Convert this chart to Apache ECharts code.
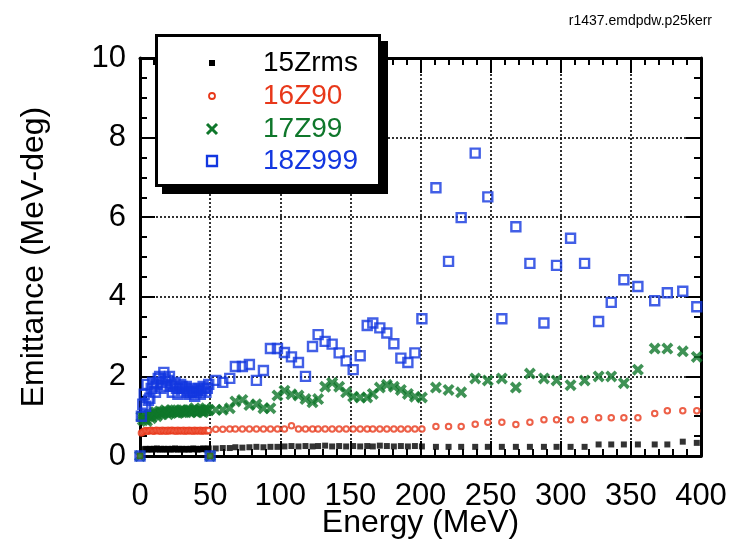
<!DOCTYPE html>
<html>
<head>
<meta charset="utf-8">
<title>emittance vs energy</title>
<script src="https://cdn.jsdelivr.net/npm/echarts@6/dist/echarts.min.js"></script>
<style>
  html, body { margin: 0; padding: 0; background: #fff; }
  #chart { width: 732px; height: 544px; }
</style>
</head>
<body>
<div id="chart"></div>
<script>
// energies (MeV), three runs; the 0 and 50 points are the zero entries
var energyLow = [0, 1, 2, 3, 4, 5, 6, 7, 8, 9, 10, 11, 12, 13, 14, 15, 16, 17, 18, 19, 20, 21, 22, 23, 24, 25, 26, 27, 28, 29, 30, 31, 32, 33, 34, 35, 36, 37, 38, 39, 40, 41, 42, 43, 44, 45, 46, 47, 48, 49]
var energyMid = [50, 54, 59, 64, 68, 73, 78, 83, 88, 93, 98, 103, 108, 113, 118, 123, 127, 132, 137, 142, 147, 152, 157, 162, 166, 171, 176, 181, 186, 191, 196, 201]
var energyHigh = [211, 220, 229, 239, 248, 258, 268, 278, 288, 297, 307, 317, 327, 336, 345, 355, 367, 376, 387, 397]

// 15Zrms
var rmsLow = [0, '-', '-', 0.17, 0.18, 0.16, 0.17, 0.18, 0.17, 0.16, 0.18, 0.17, 0.19, 0.17, 0.16, 0.18, 0.17, 0.18, 0.16, 0.17, 0.18, 0.17, 0.16, 0.18, 0.17, 0.19, 0.17, 0.16, 0.18, 0.17, 0.18, 0.16, 0.17, 0.18, 0.17, 0.16, 0.18, 0.17, 0.19, 0.17, 0.18, 0.16, 0.17, 0.18, 0.17, 0.19, 0.18, 0.17, 0.18, 0.19]
var rmsMid = [0, 0.19, 0.2, 0.2, 0.22, 0.21, 0.22, 0.23, 0.22, 0.23, 0.23, 0.24, 0.25, 0.24, 0.25, 0.24, 0.25, 0.26, 0.24, 0.25, 0.24, 0.25, 0.24, 0.25, 0.24, 0.26, 0.25, 0.24, 0.25, 0.24, 0.25, 0.24]
var rmsHigh = [0.23, 0.23, 0.23, 0.23, 0.23, 0.23, 0.23, 0.23, 0.23, 0.23, 0.23, 0.23, 0.29, 0.29, 0.29, 0.29, 0.29, 0.29, 0.36, 0.33]

// 16Z90
var z90Low = [0, 0.58, 0.6, 0.62, 0.64, 0.63, 0.62, 0.64, 0.65, 0.63, 0.62, 0.64, 0.65, 0.63, 0.64, 0.62, 0.65, 0.63, 0.64, 0.62, 0.65, 0.63, 0.64, 0.65, 0.63, 0.64, 0.62, 0.65, 0.63, 0.64, 0.63, 0.65, 0.62, 0.64, 0.63, 0.65, 0.63, 0.64, 0.62, 0.65, 0.63, 0.64, 0.63, 0.65, 0.62, 0.64, 0.63, 0.65, 0.63, 0.64]
var z90Mid = [0, 0.67, 0.67, 0.68, 0.68, 0.68, 0.68, 0.68, 0.68, 0.68, 0.68, 0.68, 0.76, 0.68, 0.68, 0.68, 0.68, 0.68, 0.68, 0.68, 0.68, 0.68, 0.68, 0.68, 0.68, 0.68, 0.68, 0.68, 0.68, 0.68, 0.68, 0.68]
var z90High = [0.74, 0.74, 0.74, 0.8, 0.85, 0.85, 0.79, 0.85, 0.91, 0.91, 0.91, 0.91, 0.96, 0.96, 0.96, 0.96, 1.07, 1.14, 1.14, 1.14]

// 17Z99
var z99Low = [0, 0.99, 0.9, 1.0, 0.92, 0.88, 1.0, 1.05, 0.95, 1.0, 1.08, 1.1, 1.0, 1.05, 1.12, 1.1, 1.05, 1.1, 1.15, 1.1, 1.05, 1.1, 1.15, 1.1, 1.12, 1.15, 1.1, 1.08, 1.12, 1.15, 1.1, 1.15, 1.12, 1.1, 1.15, 1.15, 1.1, 1.12, 1.15, 1.2, 1.12, 1.1, 1.15, 1.15, 1.12, 1.1, 1.15, 1.2, 1.15, 1.15]
var z99Mid = [0, 1.16, 1.16, 1.2, 1.37, 1.41, 1.28, 1.3, 1.2, 1.2, 1.52, 1.64, 1.55, 1.52, 1.43, 1.35, 1.43, 1.74, 1.84, 1.74, 1.6, 1.49, 1.47, 1.47, 1.56, 1.72, 1.79, 1.74, 1.66, 1.56, 1.49, 1.47]
var z99High = [1.72, 1.66, 1.6, 1.95, 1.9, 1.95, 1.72, 2.07, 1.95, 1.9, 1.78, 1.9, 2.0, 2.0, 1.83, 2.17, 2.7, 2.7, 2.63, 2.49]

// 18Z999
var z999Low = [0, 1.0, 1.3, 1.55, 1.25, 1.8, 1.4, 1.45, 1.7, 1.85, 1.75, 1.6, 1.8, 1.95, 2.0, 1.7, 1.85, 2.1, 1.95, 1.75, 1.9, 2.0, 1.8, 1.6, 1.75, 1.85, 1.7, 1.55, 1.7, 1.8, 1.75, 1.6, 1.7, 1.75, 1.65, 1.55, 1.6, 1.7, 1.6, 1.5, 1.6, 1.65, 1.7, 1.55, 1.65, 1.75, 1.7, 1.6, 1.7, 1.8]
var z999Mid = [0, 1.9, 1.85, 1.95, 2.25, 2.25, 2.3, 1.9, 2.15, 2.7, 2.7, 2.6, 2.49, 2.35, 2.0, 2.75, 3.05, 2.88, 2.81, 2.59, 2.39, 2.17, 2.52, 3.28, 3.34, 3.22, 3.09, 2.82, 2.46, 2.35, 2.59, 3.45]
var z999High = [6.74, 4.89, 5.99, 7.61, 6.51, 3.45, 5.76, 4.84, 3.34, 4.79, 5.47, 4.84, 3.38, 3.86, 4.43, 4.26, 3.9, 4.1, 4.14, 3.75]

var seriesNames = ['15Zrms', '16Z90', '17Z99', '18Z999']
var seriesColors = ['#000000', '#e8381a', '#0f772b', '#1337e0']

var energy = energyLow.concat(energyMid, energyHigh)
var font = '"Liberation Sans", Arial, sans-serif'

function pairs(vals) {
  return energy.map(function (e, i) { return [e, vals[i]] })
}

var chart = echarts.init(document.getElementById('chart'))

var crossPath = 'path://M0,2.2L2.2,0L5,2.8L7.8,0L10,2.2L7.2,5L10,7.8L7.8,10L5,7.2L2.2,10L0,7.8L2.8,5Z'

// legend box drawn by hand (white box, black frame, offset shadow)
var legendX = 212, legendTextX = 263, legendRowsY = [63, 96, 129, 161]
var legendGraphic = [
  { type: 'rect', z: 100, shape: { x: 162, y: 41, width: 226, height: 153 }, style: { fill: '#000' } },
  { type: 'rect', z: 101, shape: { x: 156.5, y: 35.5, width: 223, height: 150 }, style: { fill: '#fff', stroke: '#000', lineWidth: 3 } },
  { type: 'rect', z: 102, shape: { x: legendX - 3, y: legendRowsY[0] - 3, width: 6, height: 6 }, style: { fill: seriesColors[0] } },
  { type: 'circle', z: 102, shape: { cx: legendX, cy: legendRowsY[1], r: 3 }, style: { fill: '#fff', stroke: seriesColors[1], lineWidth: 1.8 } },
  { type: 'line', z: 102, shape: { x1: legendX - 5, y1: legendRowsY[2] - 5, x2: legendX + 5, y2: legendRowsY[2] + 5 }, style: { stroke: seriesColors[2], lineWidth: 3 } },
  { type: 'line', z: 102, shape: { x1: legendX - 5, y1: legendRowsY[2] + 5, x2: legendX + 5, y2: legendRowsY[2] - 5 }, style: { stroke: seriesColors[2], lineWidth: 3 } },
  { type: 'rect', z: 102, shape: { x: legendX - 5, y: legendRowsY[3] - 5, width: 10, height: 10 }, style: { fill: 'none', stroke: seriesColors[3], lineWidth: 2.3 } }
]
seriesNames.forEach(function (name, i) {
  legendGraphic.push({
    type: 'text', z: 102, x: legendTextX, y: legendRowsY[i],
    style: { text: name, fill: seriesColors[i], fontSize: 28, fontFamily: font, verticalAlign: 'middle' }
  })
})

var tickStyle = { color: '#000', width: 2 }

chart.setOption({
  animation: false,
  backgroundColor: '#fff',
  title: {
    text: 'r1437.emdpdw.p25kerr',
    right: 15,
    top: 9,
    textStyle: { fontSize: 14, fontWeight: 'normal', fontFamily: font, color: '#000' }
  },
  grid: { left: 140, right: 31, top: 58, bottom: 88, outerBoundsMode: 'none', containLabel: false },
  xAxis: [{
    type: 'value', min: 0, max: 400, interval: 50,
    name: 'Energy (MeV)', nameLocation: 'middle', nameGap: 51, nameMoveOverlap: false,
    nameTextStyle: { fontSize: 32, fontFamily: font, color: '#000' },
    axisLine: { onZero: false, lineStyle: { color: '#000', width: 3 } },
    axisTick: { inside: true, length: 15, lineStyle: tickStyle },
    minorTick: { show: true, splitNumber: 5, length: 7, lineStyle: tickStyle },
    axisLabel: { margin: 25, fontSize: 31, fontFamily: font, color: '#000' },
    splitLine: { show: true, lineStyle: { color: '#000', width: 1.6, type: [2, 2] } }
  }, {
    type: 'value', min: 0, max: 400, interval: 50, position: 'top',
    axisLine: { onZero: false, lineStyle: { color: '#000', width: 3 } },
    axisTick: { inside: true, length: 15, lineStyle: tickStyle },
    minorTick: { show: true, splitNumber: 5, length: 7, lineStyle: tickStyle },
    axisLabel: { show: false },
    splitLine: { show: false }
  }],
  yAxis: [{
    type: 'value', min: 0, max: 10, interval: 2,
    name: 'Emittance (MeV-deg)', nameLocation: 'middle', nameGap: 90, nameMoveOverlap: false,
    nameTextStyle: { fontSize: 32, fontFamily: font, color: '#000' },
    axisLine: { onZero: false, lineStyle: { color: '#000', width: 3 } },
    axisTick: { inside: true, length: 15, lineStyle: tickStyle },
    minorTick: { show: true, splitNumber: 4, length: 7, lineStyle: tickStyle },
    axisLabel: { margin: 14, fontSize: 31, fontFamily: font, color: '#000' },
    splitLine: { show: true, lineStyle: { color: '#000', width: 1.6, type: [2, 2] } }
  }, {
    type: 'value', min: 0, max: 10, interval: 2, position: 'right',
    axisLine: { show: true, onZero: false, lineStyle: { color: '#000', width: 3 } },
    axisTick: { show: true, inside: true, length: 15, lineStyle: tickStyle },
    minorTick: { show: true, splitNumber: 4, length: 7, lineStyle: tickStyle },
    axisLabel: { show: false },
    splitLine: { show: false }
  }],
  series: [{
    name: seriesNames[0], type: 'scatter', clip: false,
    symbol: 'rect', symbolSize: 6,
    itemStyle: { color: seriesColors[0] },
    data: pairs(rmsLow.concat(rmsMid, rmsHigh))
  }, {
    name: seriesNames[1], type: 'scatter', clip: false,
    symbol: 'circle', symbolSize: 5.5,
    itemStyle: { color: '#fff', borderColor: seriesColors[1], borderWidth: 2 },
    data: pairs(z90Low.concat(z90Mid, z90High))
  }, {
    name: seriesNames[2], type: 'scatter', clip: false,
    symbol: crossPath, symbolSize: 12,
    itemStyle: { color: seriesColors[2] },
    data: pairs(z99Low.concat(z99Mid, z99High))
  }, {
    name: seriesNames[3], type: 'scatter', clip: false,
    symbol: 'rect', symbolSize: 9,
    itemStyle: { color: 'rgba(0,0,0,0)', borderColor: seriesColors[3], borderWidth: 2.4 },
    data: pairs(z999Low.concat(z999Mid, z999High))
  }],
  graphic: legendGraphic
})
</script>
</body>
</html>
